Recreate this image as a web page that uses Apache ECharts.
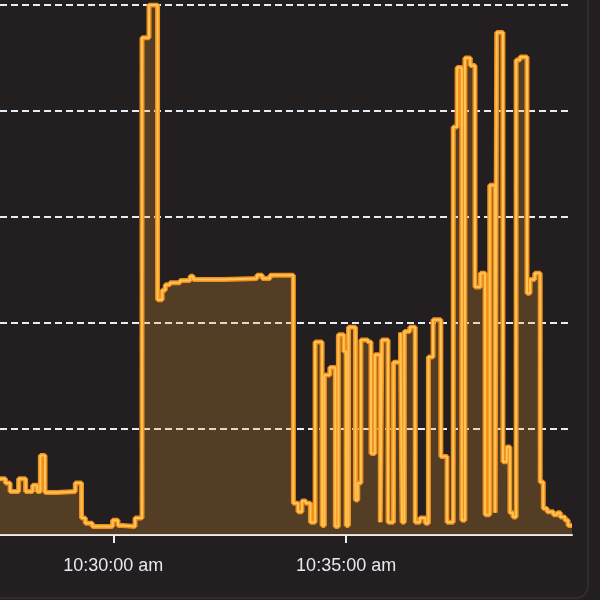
<!DOCTYPE html>
<html>
<head>
<meta charset="utf-8">
<title>Load trace</title>
<script src="https://cdn.jsdelivr.net/npm/echarts@6.0.0/dist/echarts.min.js"></script>
<style>
    html, body { margin: 0; padding: 0; background: #231f20; }
    #main { width: 600px; height: 600px; }
</style>
</head>
<body>
<div id="main"></div>
<script>
    // sample times (hh:mm:ss), each value is held until the next sample
    var sampleTimes = [
        '10:27:34', '10:27:41', '10:27:47', '10:27:58', '10:28:07', '10:28:16', '10:28:22', '10:28:26',
        '10:28:32', '10:28:48', '10:29:11', '10:29:19', '10:29:24', '10:29:33', '10:29:59', '10:30:06',
        '10:30:12', '10:30:28', '10:30:37', '10:30:46', '10:30:57', '10:31:03', '10:31:07', '10:31:13',
        '10:31:26', '10:31:39', '10:31:43', '10:32:22', '10:33:05', '10:33:12', '10:33:22', '10:33:52',
        '10:33:58', '10:34:03', '10:34:08', '10:34:14', '10:34:20', '10:34:29', '10:34:32', '10:34:39',
        '10:34:46', '10:34:50', '10:34:57', '10:35:00', '10:35:03', '10:35:12', '10:35:15', '10:35:19',
        '10:35:28', '10:35:32', '10:35:37', '10:35:44', '10:35:46', '10:35:54', '10:36:01', '10:36:10',
        '10:36:12', '10:36:15', '10:36:22', '10:36:29', '10:36:35', '10:36:42', '10:36:46', '10:36:52',
        '10:37:02', '10:37:10', '10:37:18', '10:37:23', '10:37:29', '10:37:33', '10:37:40', '10:37:46',
        '10:37:53', '10:37:59', '10:38:05', '10:38:12', '10:38:14', '10:38:22', '10:38:27', '10:38:31',
        '10:38:35', '10:38:39', '10:38:44', '10:38:53', '10:38:57', '10:39:03', '10:39:10', '10:39:14',
        '10:39:19', '10:39:27', '10:39:32', '10:39:36', '10:39:42', '10:39:46', '10:39:51'
    ];

    var sampleValues = [
        0.53, 0.49, 0.41, 0.53, 0.41, 0.47, 0.41, 0.75,
        0.40, 0.41, 0.49, 0.16, 0.11, 0.08, 0.14, 0.09,
        0.08, 0.16, 4.69, 5.00, 2.22, 2.31, 2.36, 2.38,
        2.40, 2.44, 2.41, 2.42, 2.45, 2.42, 2.45, 0.30,
        0.22, 0.32, 0.30, 0.12, 1.82, 0.09, 1.51, 1.58,
        0.08, 1.89, 1.73, 0.09, 1.96, 0.33, 0.49, 1.84,
        1.82, 0.77, 1.70, 0.12, 1.84, 0.12, 1.63, 1.91,
        0.12, 1.92, 1.96, 0.12, 0.16, 0.11, 1.68, 2.03,
        0.74, 0.12, 3.85, 4.41, 0.14, 4.50, 4.43, 2.34,
        2.47, 0.19, 3.30, 0.21, 4.74, 0.69, 0.83, 0.21,
        0.17, 4.48, 4.51, 2.28, 2.41, 2.47, 0.50, 0.25,
        0.22, 0.19, 0.21, 0.17, 0.14, 0.09, 0.09
    ];

    // x axis ticks
    var tickTimes = ['10:30:00', '10:35:00'];

    // y axis range and gridline step
    var yMin = 0, yMax = 5, yStep = 1;

    (function () {
        "use strict";

        var toSec = function (t) {
                var p = t.split(':');
                return (+p[0]) * 3600 + (+p[1]) * 60 + (+p[2]);
            },
            pad = function (n) {
                return n < 10 ? '0' + n : '' + n;
            },
            // 37800 -> "10:30:00 am"
            formatTime = function (sec) {
                var h = Math.floor(sec / 3600),
                    m = Math.floor((sec % 3600) / 60),
                    s = Math.round(sec % 60),
                    ampm = h >= 12 ? 'pm' : 'am';
                h = h % 12 || 12;
                return h + ':' + pad(m) + ':' + pad(s) + ' ' + ampm;
            };

        var data = [],
            tickSecs = tickTimes.map(toSec);
        for (var i = 0; i < sampleTimes.length; i++) {
            data.push([toSec(sampleTimes[i]), sampleValues[i]]);
        }

        var axisColor = '#e8edf3',
            chart = echarts.init(document.getElementById('main'), null, { renderer: 'canvas' });

        chart.setOption({
            animation: false,
            backgroundColor: 'transparent',
            grid: { left: 0, right: 28, top: 5, bottom: 65 },
            xAxis: {
                type: 'value',
                min: data[0][0],
                max: data[data.length - 1][0],
                axisLine: { show: true, lineStyle: { color: axisColor, width: 2 } },
                axisTick: {
                    show: true,
                    customValues: tickSecs,
                    length: 8,
                    lineStyle: { color: axisColor, width: 2 }
                },
                axisLabel: {
                    customValues: tickSecs,
                    formatter: formatTime,
                    color: '#e4e9f0',
                    fontSize: 18,
                    margin: 22,
                    fontFamily: 'Liberation Sans, Arial, sans-serif'
                },
                splitLine: { show: false }
            },
            yAxis: {
                type: 'value',
                min: yMin,
                max: yMax,
                interval: yStep,
                axisLine: { show: false },
                axisTick: { show: false },
                axisLabel: { show: false },
                splitLine: {
                    lineStyle: { color: '#e6ecf5', width: 2, type: [7, 4] }
                }
            },
            // panel frame at the right edge
            graphic: [{
                type: 'rect',
                silent: true,
                shape: { x: -20, y: -20, width: 608, height: 618, r: 12 },
                style: { fill: 'none', stroke: '#353133', lineWidth: 1.5 }
            }],
            series: [{
                type: 'line',
                step: 'end',
                data: data,
                symbol: 'none',
                lineStyle: { color: '#f0901c', width: 5 },
                areaStyle: { color: 'rgba(232,150,50,0.36)' }
            }, {
                type: 'line',
                step: 'end',
                data: data,
                symbol: 'none',
                silent: true,
                lineStyle: { color: '#ffc455', width: 2 }
            }]
        });
    })();
</script>
</body>
</html>
